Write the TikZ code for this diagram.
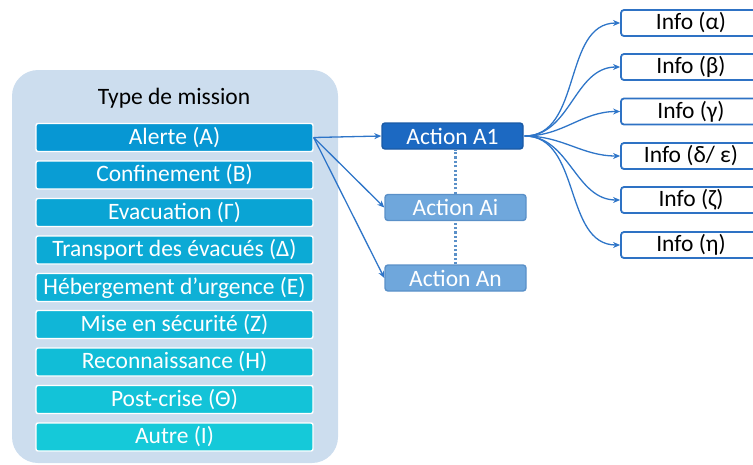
\documentclass[tikz,border=0pt]{standalone}
\usepackage{fontspec}
\setmainfont{Carlito}
\usetikzlibrary{arrows.meta}
\definecolor{panel}{HTML}{CCDDEE}
\definecolor{bartop}{HTML}{0797D3}
\definecolor{barbot}{HTML}{15C9D9}
\definecolor{aone}{HTML}{1C69C2}
\definecolor{aoneb}{HTML}{1A5AA6}
\definecolor{aother}{HTML}{6FA7DC}
\definecolor{aotherb}{HTML}{5A90C8}
\definecolor{conn}{HTML}{2E75C8}
\definecolor{infob}{HTML}{2E72C4}
\tikzset{
  bigfont/.style={font=\fontsize{23.5}{27}\selectfont},
  missionbar/.style={bigfont, text=white, draw=white, line width=1.4pt, rounded corners=2pt,
    minimum width=277pt, minimum height=28pt, inner sep=0pt},
  actionone/.style={bigfont, text=white, fill=aone, draw=aoneb, line width=1.4pt, rounded corners=3pt,
    minimum width=141pt, minimum height=26pt, inner sep=0pt},
  actionother/.style={bigfont, text=white, fill=aother, draw=aotherb, line width=1.4pt, rounded corners=3pt,
    minimum width=141pt, minimum height=26pt, inner sep=0pt},
  infobox/.style={bigfont, text=black, fill=white, draw=infob, line width=1.8pt, rounded corners=3pt,
    minimum width=140pt, minimum height=26pt, inner sep=0pt},
  conarrow/.style={draw=conn, line width=1.3pt, -{Stealth[length=7pt,width=6pt]}},
  dotline/.style={draw=aotherb, line width=2.6pt, dash pattern=on 2.2pt off 2.2pt},
}
\begin{document}
\begin{tikzpicture}[x=1pt,y=-1pt]
\useasboundingbox (0,0) rectangle (753,464);
\begin{scope}
\clip (0,0) rectangle (753,464);
% panel
\fill[panel] (12,70) [rounded corners=26pt] rectangle (338,463);
\node[bigfont] (title) at (174,98.5) {Type de mission};
\node[missionbar, fill=bartop] (ma) at (174.5,137.5) {Alerte (A)};
\node[missionbar, fill=barbot!12.5!bartop] (mb) at (174.5,175) {Confinement (B)};
\node[missionbar, fill=barbot!25!bartop] (mc) at (174.5,212.5) {Evacuation (Γ)};
\node[missionbar, fill=barbot!37.5!bartop] (md) at (174.5,250) {Transport des évacués (Δ)};
\node[missionbar, fill=barbot!50!bartop] (me) at (174.5,287.5) {Hébergement d’urgence (E)};
\node[missionbar, fill=barbot!62.5!bartop] (mf) at (174.5,324.5) {Mise en sécurité (Z)};
\node[missionbar, fill=barbot!75!bartop] (mg) at (174.5,362) {Reconnaissance (H)};
\node[missionbar, fill=barbot!87.5!bartop] (mh) at (174.5,399.5) {Post-crise (Θ)};
\node[missionbar, fill=barbot] (mi) at (174.5,437) {Autre (I)};
% actions
\node[actionone] (a1) at (452.5,136) {Action A1};
\node[actionother] (ai) at (455.5,207.5) {Action Ai};
\node[actionother] (an) at (455.5,278) {Action An};
\draw[dotline] (ai.north) -- (ai.north |- a1.south);
\draw[dotline] (an.north) -- (ai.south);
\draw[conarrow] (ma.east) -- (a1.west);
\draw[conarrow] (ma.east) -- (ai.west);
\draw[conarrow] (ma.east) -- (an.west);
% infos
\node[infobox] (ia) at (691,23) {Info (α)};
\node[infobox] (ib) at (691,67) {Info (β)};
\node[infobox] (ic) at (691,111.5) {Info (γ)};
\node[infobox] (id) at (691,156) {Info (δ/ ε)};
\node[infobox] (ie) at (691,200) {Info (ζ)};
\node[infobox] (if) at (691,245) {Info (η)};
\coordinate (src) at ([xshift=1pt]a1.east);
\foreach \t in {ia,ib,ic,id,ie,if}
  \draw[conarrow] (src) to[out=0,in=180] (\t.west);
\end{scope}
\end{tikzpicture}
\end{document}
